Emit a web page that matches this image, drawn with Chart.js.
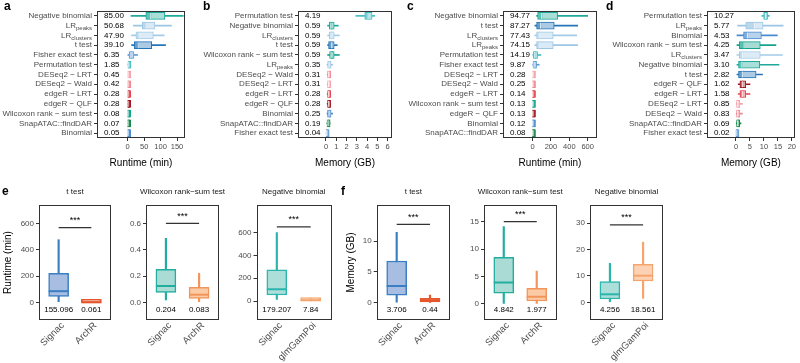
<!DOCTYPE html>
<html>
<head>
<meta charset="utf-8">
<script src="https://cdn.jsdelivr.net/npm/chart.js@4.4.0/dist/chart.umd.min.js"></script>
<style>
  html, body { margin: 0; padding: 0; background: #fff; }
  #wrap { position: relative; width: 800px; height: 363px; overflow: hidden; }
  canvas { position: absolute; left: 0; top: 0; }
  .tag { position: absolute; font: bold 12px 'Liberation Sans', Arial, sans-serif; line-height: 12px; color: #000; }
</style>
</head>
<body>
<div id="wrap">
  <canvas id="pa" width="800" height="363"></canvas>
  <canvas id="pb" width="800" height="363"></canvas>
  <canvas id="pc" width="800" height="363"></canvas>
  <canvas id="pd" width="800" height="363"></canvas>
  <canvas id="pe1" width="800" height="363"></canvas>
  <canvas id="pe2" width="800" height="363"></canvas>
  <canvas id="pe3" width="800" height="363"></canvas>
  <canvas id="pf1" width="800" height="363"></canvas>
  <canvas id="pf2" width="800" height="363"></canvas>
  <canvas id="pf3" width="800" height="363"></canvas>
  <div class="tag" style="left:4px;top:0px">a</div>
  <div class="tag" style="left:203px;top:0px">b</div>
  <div class="tag" style="left:407px;top:0px">c</div>
  <div class="tag" style="left:606px;top:0px">d</div>
  <div class="tag" style="left:2px;top:185px">e</div>
  <div class="tag" style="left:341px;top:185px">f</div>
</div>
<script>
const FONT = "'Liberation Sans', Arial, sans-serif";
Chart.defaults.font.family = FONT;
Chart.defaults.font.size = 8;
Chart.defaults.color = '#4d4d4d';

// ---- panel a: runtime (min), dataset 1
const aMethods = ['Negative binomial', 'LR_peaks', 'LR_clusters', 't test', 'Fisher exact test', 'Permutation test',
  'DESeq2 − LRT', 'DESeq2 − Wald', 'edgeR − LRT', 'edgeR − QLF', 'Wilcoxon rank − sum test', 'SnapATAC::findDAR', 'Binomial'];
const aMeans = ['85.00', '50.68', '47.90', '39.10', '6.35', '1.85', '0.45', '0.42', '0.28', '0.28', '0.08', '0.07', '0.05'];
const aMin = [10, 17, 12, 12, 0.5, 0.3, 0.1, 0.1, 0.05, 0.05, 0.02, 0.02, 0.01];
const aQ1 = [55, 44, 25, 20, 4, 0.8, 0.2, 0.2, 0.1, 0.1, 0.03, 0.03, 0.02];
const aMed = [70, 56, 35, 32, 10, 1.5, 0.4, 0.4, 0.25, 0.25, 0.07, 0.06, 0.04];
const aQ3 = [113, 83, 78, 73, 19, 2.5, 0.6, 0.6, 0.4, 0.4, 0.1, 0.1, 0.07];
const aMax = [169, 133, 111, 115, 30, 5, 1, 1, 0.7, 0.7, 0.2, 0.2, 0.15];
const aTicks = [0, 50, 100, 150];

// ---- panel b: memory (GB), dataset 1
const bMethods = ['Permutation test', 'Negative binomial', 'LR_clusters', 't test', 'Wilcoxon rank − sum test', 'LR_peaks',
  'DESeq2 − Wald', 'DESeq2 − LRT', 'edgeR − LRT', 'edgeR − QLF', 'Binomial', 'SnapATAC::findDAR', 'Fisher exact test'];
const bMeans = ['4.19', '0.59', '0.59', '0.59', '0.59', '0.35', '0.31', '0.31', '0.28', '0.28', '0.25', '0.19', '0.04'];
const bMin = [2.9, 0.16, 0.16, 0.16, 0.16, 0.1, 0.12, 0.12, 0.12, 0.12, 0.1, 0.08, 0.01];
const bQ1 = [3.77, 0.32, 0.32, 0.25, 0.35, 0.16, 0.15, 0.15, 0.15, 0.15, 0.15, 0.1, 0.02];
const bMed = [4.1, 0.48, 0.5, 0.55, 0.5, 0.3, 0.25, 0.25, 0.25, 0.25, 0.3, 0.2, 0.04];
const bQ3 = [4.48, 0.8, 0.8, 0.8, 0.8, 0.48, 0.35, 0.35, 0.35, 0.35, 0.5, 0.3, 0.08];
const bMax = [4.74, 1.2, 1.3, 1.1, 1.3, 0.65, 0.45, 0.45, 0.45, 0.45, 0.65, 0.4, 0.12];
const bTicks = [0, 1, 2, 3, 4, 5, 6];

// ---- panel c: runtime (min), dataset 2
const cMethods = ['Negative binomial', 't test', 'LR_clusters', 'LR_peaks', 'Permutation test', 'Fisher exact test',
  'DESeq2 − LRT', 'DESeq2 − Wald', 'edgeR − LRT', 'Wilcoxon rank − sum test', 'edgeR − QLF', 'Binomial', 'SnapATAC::findDAR'];
const cMeans = ['94.77', '87.27', '77.43', '74.15', '14.19', '9.87', '0.28', '0.25', '0.14', '0.13', '0.13', '0.12', '0.08'];
const cMin = [44, 25, 25, 25, 3, 3, 0.05, 0.05, 0.03, 0.03, 0.03, 0.03, 0.02];
const cQ1 = [55, 44, 44, 44, 7, 5, 0.1, 0.1, 0.06, 0.06, 0.06, 0.05, 0.04];
const cMed = [100, 87, 73, 73, 25, 18, 0.25, 0.2, 0.12, 0.1, 0.1, 0.1, 0.07];
const cQ3 = [273, 236, 225, 225, 55, 44, 0.4, 0.35, 0.2, 0.2, 0.2, 0.18, 0.1];
const cMax = [600, 491, 480, 491, 91, 73, 0.8, 0.7, 0.4, 0.4, 0.4, 0.35, 0.2];
const cTicks = [0, 200, 400, 600];

// ---- panel d: memory (GB), dataset 2
const dMethods = ['Permutation test', 'LR_peaks', 'Binomial', 'Wilcoxon rank − sum test', 'LR_clusters', 'Negative binomial',
  't test', 'edgeR − QLF', 'edgeR − LRT', 'DESeq2 − LRT', 'DESeq2 − Wald', 'SnapATAC::findDAR', 'Fisher exact test'];
const dMeans = ['10.27', '5.77', '4.53', '4.25', '3.47', '3.10', '2.82', '1.62', '1.58', '0.85', '0.83', '0.69', '0.02'];
const dMin = [9.3, 0.6, 0.35, 0.35, 0.35, 0.35, 0.35, 0.8, 0.8, 0.1, 0.1, 0.1, 0];
const dQ1 = [9.9, 3.5, 2.7, 1.16, 1.16, 0.9, 0.9, 1.4, 1.4, 0.2, 0.2, 0.2, 0.01];
const dMed = [10.6, 6.6, 4.1, 2.9, 2.3, 2.1, 2.3, 2.3, 2.3, 0.6, 0.6, 0.6, 0.02];
const dQ3 = [11.3, 9.7, 9.1, 8.7, 8.7, 8.5, 7.2, 3.5, 3.5, 1.4, 1.4, 1.2, 0.3];
const dMax = [11.9, 16.9, 14.8, 14.3, 16.6, 15.4, 9.5, 5, 5, 2.3, 2.3, 1.8, 0.4];
const dTicks = [0, 5, 10, 15, 20];

// ---- panels e / f: Signac vs ArchR / glmGamPoi
const archrGroups = ['Signac', 'ArchR'];
const glmGroups = ['Signac', 'glmGamPoi'];

const eTtMin = [5, 0.01], eTtQ1 = [45, 0.03], eTtMed = [85, 0.05], eTtQ3 = [222, 0.08], eTtMax = [478, 0.2];
const eTtMeans = ['155.096', '0.061'];
const eWiMin = [0.018, 0.005], eWiQ1 = [0.076, 0.03], eWiMed = [0.124, 0.058], eWiQ3 = [0.25, 0.114], eWiMax = [0.486, 0.22];
const eWiMeans = ['0.204', '0.083'];
const eNbMin = [15, 1], eNbQ1 = [53, 3], eNbMed = [103, 7], eNbQ3 = [273, 12], eNbMax = [602, 25];
const eNbMeans = ['179.207', '7.84'];

const fTtMin = [0.1, 0.05], fTtQ1 = [1.25, 0.15], fTtMed = [2.7, 0.4], fTtQ3 = [6.76, 0.7], fTtMax = [11.4, 1.25];
const fTtMeans = ['3.706', '0.44'];
const fWiMin = [0.1, 0], fWiQ1 = [1.95, 0.55], fWiMed = [3.9, 1.34], fWiQ3 = [8.5, 2.86], fWiMax = [14.1, 6.0];
const fWiMeans = ['4.842', '1.977'];
const fNbMin = [0.25, 1.5], fNbQ1 = [1.27, 8.1], fNbMed = [3.04, 10.1], fNbQ3 = [7.85, 14.4], fNbMax = [14.8, 22.8];
const fNbMeans = ['4.256', '18.561'];

const methodColor = {
  'Negative binomial': '#1fa99a',
  'LR_peaks': '#9cc6e4',
  'LR_clusters': '#a3cbe7',
  't test': '#2574b8',
  'Fisher exact test': '#5f9bd6',
  'Permutation test': '#45bcc2',
  'DESeq2 − LRT': '#f3a0a8',
  'DESeq2 − Wald': '#ef8790',
  'edgeR − LRT': '#e0424e',
  'edgeR − QLF': '#a0141f',
  'Wilcoxon rank − sum test': '#14a48c',
  'SnapATAC::findDAR': '#17864a',
  'Binomial': '#4a8bd0'
};

function lighten(hex, t) {
  const n = parseInt(hex.slice(1), 16);
  const r = n >> 16, g = (n >> 8) & 255, b = n & 255;
  const m = c => Math.round(c + (255 - c) * t);
  return 'rgb(' + m(r) + ',' + m(g) + ',' + m(b) + ')';
}

function strokeFrame(ctx, a) {
  ctx.strokeStyle = '#333';
  ctx.lineWidth = 1;
  ctx.strokeRect(Math.round(a.left) + 0.5, Math.round(a.top) + 0.5,
    Math.round(a.right - a.left) - 1, Math.round(a.bottom - a.top) - 1);
}

// right-aligned method label, "LR_peaks" -> LR with subscript
function drawLabel(ctx, text, x, y) {
  const parts = text.split('_');
  ctx.font = '8px ' + FONT;
  const w0 = ctx.measureText(parts[0]).width;
  let w1 = 0;
  if (parts[1]) { ctx.font = '6px ' + FONT; w1 = ctx.measureText(parts[1]).width; }
  ctx.fillStyle = '#4d4d4d';
  ctx.textAlign = 'left';
  ctx.textBaseline = 'middle';
  ctx.font = '8px ' + FONT;
  ctx.fillText(parts[0], x - w0 - w1, y);
  if (parts[1]) {
    ctx.font = '6px ' + FONT;
    ctx.fillText(parts[1], x - w1, y + 2.5);
  }
}

function hBox(id, f, methods, means, mins, q1s, meds, q3s, maxs, ticks, xMin, xMax, xTitle) {
  const colors = methods.map(m => methodColor[m]);
  const n = methods.length;
  new Chart(document.getElementById(id), {
    type: 'bar',
    data: {
      datasets: [
        {
          type: 'line', showLine: false,
          data: meds.map((v, i) => ({ x: v, y: i })),
          pointStyle: 'line', pointRotation: 90, pointRadius: 3,
          pointBorderColor: colors.map(c => lighten(c, 0.8)), pointBorderWidth: 1.2
        },
        {
          data: meds.map((v, i) => ({ x: [v, q3s[i]], y: i })),
          backgroundColor: colors.map(c => lighten(c, 0.62)), borderColor: colors, borderWidth: 1,
          borderSkipped: false, barThickness: 7, grouped: false, minBarLength: 2
        },
        {
          data: q1s.map((v, i) => ({ x: [v, meds[i]], y: i })),
          backgroundColor: colors.map(c => lighten(c, 0.3)), borderColor: colors, borderWidth: 1,
          borderSkipped: false, barThickness: 7, grouped: false, minBarLength: 3
        },
        {
          data: mins.map((v, i) => ({ x: [v, maxs[i]], y: i })),
          backgroundColor: colors, borderWidth: 0, barThickness: 1, grouped: false
        }
      ]
    },
    options: {
      indexAxis: 'y', responsive: false, animation: false, events: [],
      layout: { padding: { left: f.l - 8, top: f.t, right: 800 - f.r, bottom: 363 - f.b - 31 } },
      plugins: { legend: { display: false }, tooltip: { enabled: false } },
      scales: {
        x: {
          type: 'linear', min: xMin, max: xMax,
          afterBuildTicks: s => { s.ticks = ticks.map(v => ({ value: v })); },
          afterFit: s => { s.height = 31; },
          grid: { drawOnChartArea: false, tickLength: 3, color: '#333' },
          border: { display: false },
          ticks: { padding: 1, color: '#4d4d4d', font: { size: 7.5 } },
          title: { display: true, text: xTitle, color: '#000', font: { size: 10 }, padding: 0 }
        },
        y: {
          type: 'linear', reverse: true, offset: false, min: -0.5, max: n - 0.5,
          afterBuildTicks: s => { s.ticks = methods.map((m, i) => ({ value: i })); },
          afterFit: s => { s.width = 8; },
          grid: { drawOnChartArea: false, offset: false, tickLength: 3, color: '#333' },
          border: { display: false },
          ticks: { display: false }
        }
      }
    },
    plugins: [{
      id: 'hx',
      afterDraw(chart) {
        const ctx = chart.ctx, a = chart.chartArea, ys = chart.scales.y;
        ctx.save();
        strokeFrame(ctx, a);
        methods.forEach((m, i) => {
          const py = ys.getPixelForValue(i);
          drawLabel(ctx, m, a.left - 5, py);
          ctx.font = '8px ' + FONT;
          ctx.fillStyle = '#000';
          ctx.textAlign = 'left';
          ctx.textBaseline = 'middle';
          ctx.fillText(means[i], a.left + 7, py);
        });
        ctx.restore();
      }
    }]
  });
}

function vBox(id, f, yw, title, yTitle, groups, means, mins, q1s, meds, q3s, maxs, colors, fills, sig, ticks, yMin, yMax, dec) {
  new Chart(document.getElementById(id), {
    type: 'bar',
    data: {
      datasets: [
        {
          type: 'line', showLine: false,
          data: meds.map((v, i) => ({ x: i, y: v })),
          pointStyle: 'line', pointRadius: 10, pointBorderColor: colors, pointBorderWidth: 2
        },
        {
          type: 'line', data: [{ x: 0, y: sig }, { x: 1, y: sig }],
          borderColor: '#333', borderWidth: 1.2, pointRadius: 0
        },
        {
          data: q1s.map((v, i) => ({ x: i, y: [v, q3s[i]] })),
          backgroundColor: fills, borderColor: colors, borderWidth: 1.5,
          borderSkipped: false, barThickness: 20, grouped: false, minBarLength: 3
        },
        {
          data: mins.map((v, i) => ({ x: i, y: [v, maxs[i]] })),
          backgroundColor: colors, borderWidth: 0, barThickness: 1.5, grouped: false
        }
      ]
    },
    options: {
      responsive: false, animation: false, events: [],
      layout: { padding: { left: f.l - yw, top: f.t, right: 800 - f.r, bottom: 363 - f.b - 43 } },
      plugins: { legend: { display: false }, tooltip: { enabled: false } },
      scales: {
        x: {
          type: 'linear', offset: false, min: -0.6, max: 1.6,
          afterBuildTicks: s => { s.ticks = [{ value: 0 }, { value: 1 }]; },
          afterFit: s => { s.height = 43; },
          grid: { display: false, drawTicks: false, offset: false },
          border: { display: false },
          ticks: {
            minRotation: 45, maxRotation: 45, padding: 0, labelOffset: 4,
            color: '#4d4d4d', font: { size: 9.5 },
            callback: v => groups[v]
          }
        },
        y: {
          type: 'linear', min: yMin, max: yMax,
          afterBuildTicks: s => { s.ticks = ticks.map(v => ({ value: v })); },
          afterFit: s => { s.width = yw; },
          grid: { drawOnChartArea: false, tickLength: 3, color: '#333' },
          border: { display: false },
          ticks: { padding: 2, color: '#4d4d4d', font: { size: 8 }, callback: v => v.toFixed(dec) },
          title: { display: !!yTitle, text: yTitle, color: '#000', font: { size: 10 }, padding: { top: 2, bottom: 0 } }
        }
      }
    },
    plugins: [{
      id: 'vx',
      afterDraw(chart) {
        const ctx = chart.ctx, a = chart.chartArea, xs = chart.scales.x, ys = chart.scales.y;
        ctx.save();
        strokeFrame(ctx, a);
        ctx.textAlign = 'center';
        ctx.textBaseline = 'middle';
        ctx.fillStyle = '#000';
        ctx.font = '8px ' + FONT;
        means.forEach((m, i) => ctx.fillText(m, xs.getPixelForValue(i), a.bottom - 10));
        ctx.fillStyle = '#1a1a1a';
        ctx.fillText(title, (a.left + a.right) / 2, a.top - 13);
        ctx.fillStyle = '#000';
        ctx.font = '9px ' + FONT;
        ctx.fillText('***', (xs.getPixelForValue(0) + xs.getPixelForValue(1)) / 2, ys.getPixelForValue(sig) - 7);
        ctx.restore();
      }
    }]
  });
}

const topFrame = (l, r) => ({ l: l, r: r, t: 11, b: 138 });
hBox('pa', topFrame(97, 185), aMethods, aMeans, aMin, aQ1, aMed, aQ3, aMax, aTicks, -93.4, 174.3, 'Runtime (min)');
hBox('pb', topFrame(298, 392), bMethods, bMeans, bMin, bQ1, bMed, bQ3, bMax, bTicks, -2.72, 6.42, 'Memory (GB)');
hBox('pc', topFrame(503, 597), cMethods, cMeans, cMin, cQ1, cMed, cQ3, cMax, cTicks, -321, 701, 'Runtime (min)');
hBox('pd', topFrame(707, 797), dMethods, dMeans, dMin, dQ1, dMed, dQ3, dMax, dTicks, -10.37, 21.05, 'Memory (GB)');

const botFrame = (l, r) => ({ l: l, r: r, t: 205, b: 320 });
const blueC = ['#3a7fc3', '#e5562c'], blueF = ['#a7bde2', '#f2a184'];
const tealOrC = ['#21ae9f', '#f2955b'], tealOrF = ['#aadcd5', '#fbcba6'];
const tealGlmC = ['#2bb5ad', '#f5a56c'], tealGlmF = ['#acdeda', '#fbd3b4'];

vBox('pe1', botFrame(39, 111), 39, 't test', 'Runtime (min)', archrGroups, eTtMeans,
  eTtMin, eTtQ1, eTtMed, eTtQ3, eTtMax, blueC, blueF, 570, [0, 200, 400, 600], -135, 743, 0);
vBox('pe2', botFrame(146, 219), 25, 'Wilcoxon rank−sum test', '', archrGroups, eWiMeans,
  eWiMin, eWiQ1, eWiMed, eWiQ3, eWiMax, tealOrC, tealOrF, 0.6, [0, 0.2, 0.4, 0.6], -0.134, 0.739, 1);
vBox('pe3', botFrame(256.5, 331), 25, 'Negative binomial', '', glmGroups, eNbMeans,
  eNbMin, eNbQ1, eNbMed, eNbQ3, eNbMax, tealGlmC, tealGlmF, 652, [0, 200, 400, 600], -167, 844, 0);
vBox('pf1', botFrame(376.7, 450), 33, 't test', 'Memory (GB)', archrGroups, fTtMeans,
  fTtMin, fTtQ1, fTtMed, fTtQ3, fTtMax, blueC, blueF, 12.7, [0, 5, 10], -2.79, 15.83, 0);
vBox('pf2', botFrame(484, 556.5), 25, 'Wilcoxon rank−sum test', '', archrGroups, fWiMeans,
  fWiMin, fWiQ1, fWiMed, fWiQ3, fWiMax, tealOrC, tealOrF, 15, [0, 5, 10, 15], -2.92, 18.04, 0);
vBox('pf3', botFrame(590, 663), 25, 'Negative binomial', '', glmGroups, fNbMeans,
  fNbMin, fNbQ1, fNbMed, fNbQ3, fNbMax, tealGlmC, tealGlmF, 29.4, [0, 10, 20, 30], -6.7, 36.9, 0);
</script>
</body>
</html>
